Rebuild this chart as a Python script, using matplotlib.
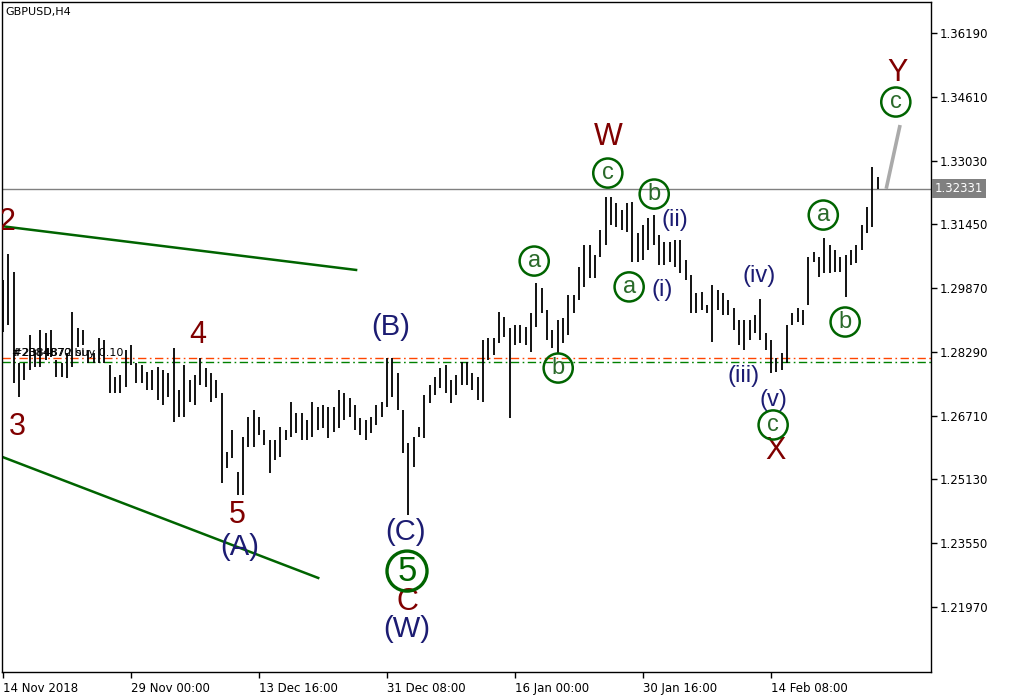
import numpy as np
import matplotlib.pyplot as plt
from matplotlib.transforms import blended_transform_factory

# H4 bar highs / lows (one bar per slot)
bar_high = [
    1.3007, 1.3072, 1.3027, 1.2801, 1.2801, 1.2871, 1.2834, 1.2883, 1.2876, 1.2883,
    1.2809, 1.2801, 1.2826, 1.2928, 1.2888, 1.2883, 1.2834, 1.2826, 1.2863, 1.2858,
    1.2796, 1.2767, 1.2772, 1.2834, 1.2846, 1.2801, 1.2796, 1.2779, 1.2784, 1.2791,
    1.2784, 1.2777, 1.2839, 1.2735, 1.2796, 1.2759, 1.2772, 1.2814, 1.2789, 1.2777,
    1.2759, 1.2727, 1.2581, 1.2636, 1.2531, 1.2618, 1.2668, 1.2685, 1.2668, 1.2636,
    1.2611, 1.2611, 1.2643, 1.2636, 1.2705, 1.2678, 1.2678, 1.2660, 1.2705, 1.2692,
    1.2697, 1.2692, 1.2692, 1.2735, 1.2727, 1.2715, 1.2697, 1.2665, 1.2660, 1.2668,
    1.2697, 1.2705, 1.2814, 1.2814, 1.2777, 1.2685, 1.2604, 1.2618, 1.2643, 1.2722,
    1.2747, 1.2767, 1.2789, 1.2796, 1.2759, 1.2772, 1.2804, 1.2804, 1.2777, 1.2767,
    1.2858, 1.2863, 1.2863, 1.2928, 1.2915, 1.2888, 1.2896, 1.2896, 1.2891, 1.2925,
    1.2999, 1.2987, 1.2933, 1.2883, 1.2908, 1.2913, 1.2970, 1.2970, 1.3039, 1.3094,
    1.3094, 1.3069, 1.3131, 1.3213, 1.3213, 1.3198, 1.3181, 1.3198, 1.3200, 1.3124,
    1.3143, 1.3161, 1.3168, 1.3119, 1.3101, 1.3101, 1.3106, 1.3106, 1.3057, 1.3019,
    1.2975, 1.2977, 1.2945, 1.2995, 1.2982, 1.2975, 1.2958, 1.2938, 1.2908, 1.2908,
    1.2908, 1.2920, 1.2960, 1.2876, 1.2858, 1.2814, 1.2826, 1.2896, 1.2925, 1.2938,
    1.2933, 1.3064, 1.3076, 1.3064, 1.3111, 1.3094, 1.3081, 1.3064, 1.3069, 1.3081,
    1.3094, 1.3143, 1.3188, 1.3287, 1.3262,
]
bar_low = [
    1.2878, 1.2896, 1.2752, 1.2717, 1.2759, 1.2784, 1.2791, 1.2791, 1.2809, 1.2816,
    1.2767, 1.2767, 1.2764, 1.2791, 1.2841, 1.2846, 1.2801, 1.2801, 1.2801, 1.2801,
    1.2727, 1.2727, 1.2727, 1.2742, 1.2796, 1.2752, 1.2752, 1.2735, 1.2735, 1.2710,
    1.2697, 1.2717, 1.2655, 1.2668, 1.2668, 1.2705, 1.2697, 1.2747, 1.2742, 1.2705,
    1.2715, 1.2504, 1.2541, 1.2566, 1.2474, 1.2474, 1.2594, 1.2594, 1.2623, 1.2599,
    1.2529, 1.2561, 1.2569, 1.2611, 1.2618, 1.2628, 1.2611, 1.2611, 1.2618, 1.2636,
    1.2641, 1.2616, 1.2631, 1.2641, 1.2660, 1.2668, 1.2636, 1.2623, 1.2611, 1.2628,
    1.2648, 1.2668, 1.2692, 1.2717, 1.2685, 1.2579, 1.2425, 1.2544, 1.2618, 1.2616,
    1.2702, 1.2722, 1.2740, 1.2727, 1.2702, 1.2722, 1.2747, 1.2747, 1.2735, 1.2710,
    1.2705, 1.2809, 1.2821, 1.2851, 1.2866, 1.2665, 1.2846, 1.2851, 1.2846, 1.2829,
    1.2891, 1.2925, 1.2858, 1.2839, 1.2826, 1.2851, 1.2871, 1.2925, 1.2958, 1.2990,
    1.3012, 1.3012, 1.3064, 1.3094, 1.3143, 1.3138, 1.3131, 1.3126, 1.3052, 1.3052,
    1.3057, 1.3081, 1.3094, 1.3044, 1.3044, 1.3052, 1.3039, 1.3024, 1.3007, 1.2925,
    1.2925, 1.2933, 1.2925, 1.2853, 1.2933, 1.2920, 1.2920, 1.2883, 1.2846, 1.2834,
    1.2858, 1.2876, 1.2858, 1.2834, 1.2777, 1.2779, 1.2784, 1.2801, 1.2896, 1.2903,
    1.2896, 1.2945, 1.3052, 1.3014, 1.3024, 1.3024, 1.3027, 1.3027, 1.2965, 1.3044,
    1.3049, 1.3081, 1.3124, 1.3138, 1.3233,
]

x_tick_bars = [0, 24, 48, 72, 96, 120, 144]
x_tick_labels = ['14 Nov 2018', '29 Nov 00:00', '13 Dec 16:00', '31 Dec 08:00',
                 '16 Jan 00:00', '30 Jan 16:00', '14 Feb 08:00']
y_ticks = [1.21970, 1.23550, 1.25130, 1.26710, 1.28290,
           1.29870, 1.31450, 1.33030, 1.34610, 1.36190]

last_price = 1.32331
order_open = 1.2814   # orange
order_sl = 1.2804     # green

# channel lines and projection: (bar, price) pairs
upper_line = [(-0.56, 1.3141), (66.2, 1.3032)]
lower_line = [(-0.56, 1.2571), (59.1, 1.2269)]
projection = [(165.6, 1.3233), (168.2, 1.3391)]

# wave labels: text, bar, price, style
wave_labels = [
    ('2', 0.75, 1.3151, 'red'),
    ('3', 2.7, 1.2643, 'red'),
    ('4', 36.5, 1.2871, 'red'),
    ('5', 43.9, 1.2425, 'red'),
    ('(A)', 44.4, 1.2346, 'navy'),
    ('(B)', 72.6, 1.2891, 'navy'),
    ('(C)', 75.4, 1.2383, 'navy'),
    ('C', 75.9, 1.2210, 'red'),
    ('(W)', 75.75, 1.2142, 'navy'),
    ('W', 113.4, 1.3361, 'red'),
    ('X', 144.8, 1.2583, 'red'),
    ('Y', 167.8, 1.3520, 'red'),
    ('(i)', 123.6, 1.2982, 'minor'),
    ('(ii)', 126.0, 1.3156, 'minor'),
    ('(iii)', 138.9, 1.2769, 'minor'),
    ('(iv)', 141.8, 1.3017, 'minor'),
    ('(v)', 144.4, 1.2710, 'minor'),
]
circled = [
    ('a', 99.6, 1.3054), ('b', 104.1, 1.2789), ('c', 113.4, 1.3272),
    ('a', 117.4, 1.2990), ('b', 122.1, 1.3220), ('c', 144.4, 1.2648),
    ('a', 153.8, 1.3168), ('b', 157.9, 1.2903), ('c', 167.4, 1.3448),
]
big_circled = ('5', 75.75, 1.2286)

RED = '#800000'
NAVY = '#1c1c72'
GREEN = '#006400'
LABEL_FONT = 'Liberation Sans'

fig = plt.figure(figsize=(10.09, 6.99), dpi=100)
ax = fig.add_axes([2 / 1009, 27 / 699, 929 / 1009, 670 / 699])

bars = np.arange(len(bar_high))
ax.vlines(bars, bar_low, bar_high, color='black', lw=1.3, zorder=3)

# horizontal levels
ax.axhline(last_price, color='#808080', lw=1, zorder=1)
ax.axhline(order_open, color='#ff4500', lw=1, ls=(0, (6, 2.5, 1.2, 2.5)), zorder=2)
ax.axhline(order_sl, color='#008000', lw=1, ls=(0, (6, 2.5, 1.2, 2.5)), zorder=2)

# channel lines
for line in (upper_line, lower_line):
    xs, ys = zip(*line)
    ax.plot(xs, ys, color=GREEN, lw=1.8, zorder=2)
xs, ys = zip(*projection)
ax.plot(xs, ys, color='#aaaaaa', lw=2.6, zorder=2, solid_capstyle='butt')

# order labels (overlapping, as in terminal)
ax.text(1.7, order_open, '#2384870 buy 0.10', fontsize=8, color='black',
        va='bottom', ha='left', zorder=4)
ax.text(1.9, order_open, '#2384872 sl', fontsize=8, color='black',
        va='bottom', ha='left', zorder=4)

# wave labels
styles = {'red': (RED, 22), 'navy': (NAVY, 21), 'minor': (NAVY, 17)}
for txt, bx, py, st in wave_labels:
    col, size = styles[st]
    ax.text(bx, py, txt, color=col, fontsize=size, family=LABEL_FONT,
            ha='center', va='center', zorder=5, clip_on=True)

for txt, bx, py in circled:
    ax.scatter([bx], [py], s=440, marker='o', facecolors='none',
               edgecolors=GREEN, linewidths=1.8, zorder=5)
    ax.text(bx, py, txt, color='#2a6a2a', fontsize=17, family=LABEL_FONT,
            ha='center', va='center', zorder=6)

txt, bx, py = big_circled
ax.scatter([bx], [py], s=830, marker='o', facecolors='none',
           edgecolors=GREEN, linewidths=2.4, zorder=5)
ax.text(bx, py, txt, color=GREEN, fontsize=25, family=LABEL_FONT,
        ha='center', va='center', zorder=6)

# symbol caption
ax.text(0.004, 0.993, 'GBPUSD,H4', transform=ax.transAxes, fontsize=8,
        ha='left', va='top', color='black')

# axes
ax.set_xlim(-0.19, 174.0)
ax.set_ylim(1.20360, 1.36958)
ax.yaxis.tick_right()
ax.set_yticks(y_ticks)
ax.set_yticklabels([f'{v:.5f}' for v in y_ticks])
ax.set_xticks(x_tick_bars)
ax.set_xticklabels(x_tick_labels)
for lbl in ax.get_xticklabels():
    lbl.set_horizontalalignment('left')
ax.tick_params(axis='y', direction='out', length=4, width=1, pad=2, labelsize=8.5)
ax.tick_params(axis='x', direction='out', length=4, width=1, pad=3, labelsize=8.5)
for sp in ax.spines.values():
    sp.set_color('black')
    sp.set_linewidth(1)

# current price tag
trans = blended_transform_factory(ax.transAxes, ax.transData)
ax.text(1.004, last_price, '1.32331', transform=trans, color='white',
        fontsize=8.5, va='center', ha='left', clip_on=False,
        bbox=dict(boxstyle='square,pad=0.25', fc='#808080', ec='none'))

fig.savefig('out.png', dpi=100)
